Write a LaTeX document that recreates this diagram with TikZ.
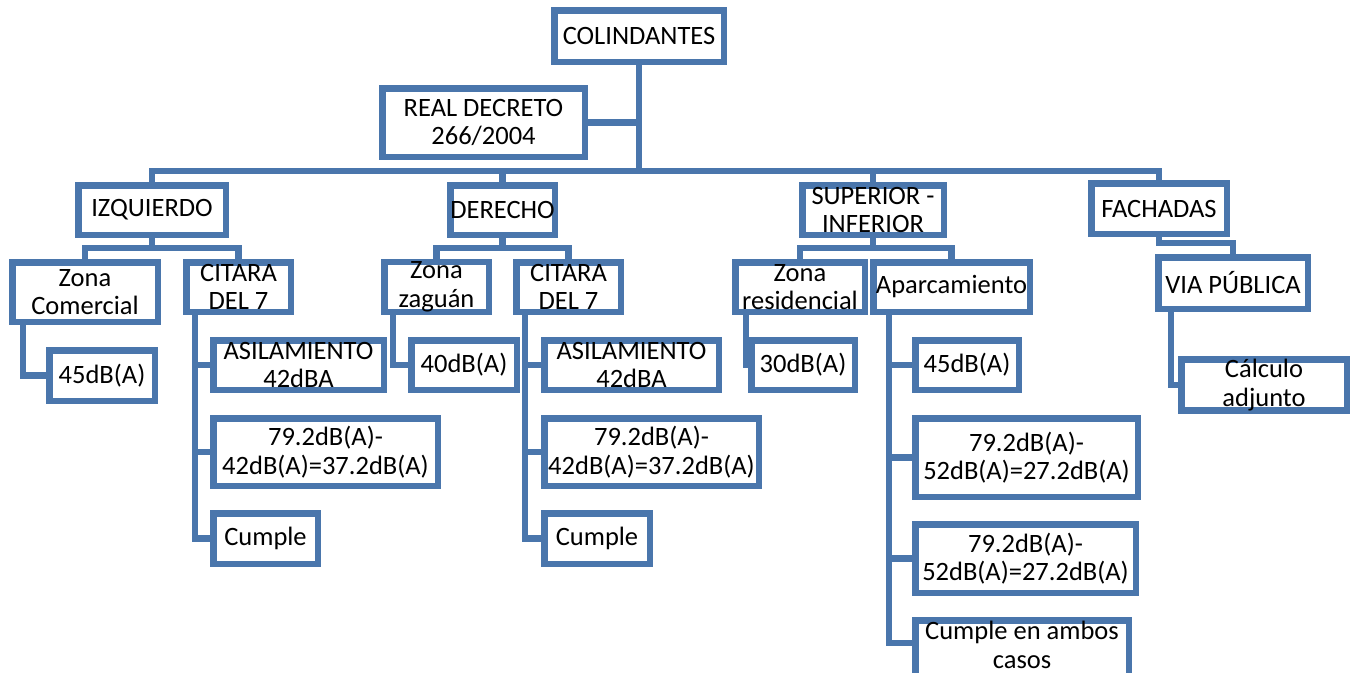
\documentclass[tikz,border=0pt]{standalone}
\usepackage{fontspec}
\setmainfont{Carlito}
\definecolor{azul}{HTML}{4A76AC}
\tikzset{
  caja/.style={draw=azul, line width=6.5pt, fill=white, align=center, inner sep=0pt,
    font=\fontsize{26.5}{28.5}\selectfont},
  linea/.style={draw=azul, line width=6.5pt}
}
\begin{document}
\begin{tikzpicture}[x=1pt,y=-1pt]
  \clip (0,0) rectangle (1359,672);
  \node[caja, minimum width=169.5pt, minimum height=51.5pt] (colindantes) at (639,36) {COLINDANTES};
  \node[caja, minimum width=202.5pt, minimum height=68.5pt] (decreto) at (483.5,122.5) {REAL DECRETO\\266/2004};
  \node[caja, minimum width=147.5pt, minimum height=49.5pt] (izquierdo) at (152,210) {IZQUIERDO};
  \node[caja, minimum width=104.5pt, minimum height=49.5pt] (derecho) at (502.5,210) {DERECHO};
  \node[caja, minimum width=141.5pt, minimum height=49.5pt] (superior) at (873,210) {SUPERIOR -\\INFERIOR};
  \node[caja, minimum width=135.5pt, minimum height=50.5pt] (fachadas) at (1159,208.5) {FACHADAS};
  \node[caja, minimum width=145.5pt, minimum height=59.5pt] (comercial) at (85,292) {Zona\\Comercial};
  \node[caja, minimum width=104.5pt, minimum height=49.5pt] (citaraI) at (238.5,287) {CITARA\\DEL 7};
  \node[caja, minimum width=104.5pt, minimum height=49.5pt] (zaguan) at (436.5,287) {Zona\\zaguán};
  \node[caja, minimum width=104.5pt, minimum height=49.5pt] (citaraD) at (568.5,287) {CITARA\\DEL 7};
  \node[caja, minimum width=129.5pt, minimum height=49.5pt] (residencial) at (800,287) {Zona\\residencial};
  \node[caja, minimum width=156.5pt, minimum height=49.5pt] (aparcamiento) at (951.5,287) {Aparcamiento};
  \node[caja, minimum width=149.5pt, minimum height=51.5pt] (via) at (1233,283) {VIA PÚBLICA};
  \node[caja, minimum width=105.5pt, minimum height=50.5pt] (c45) at (102,375.5) {45dB(A)};
  \node[caja, minimum width=170.5pt, minimum height=49.5pt] (aislI) at (298.5,365) {ASILAMIENTO\\42dBA};
  \node[caja, minimum width=224.5pt, minimum height=67.5pt] (restaI) at (325.5,452) {79.2dB(A)-\\42dB(A)=37.2dB(A)};
  \node[caja, minimum width=104.5pt, minimum height=50.5pt] (cumpleI) at (265.5,538.5) {Cumple};
  \node[caja, minimum width=105.5pt, minimum height=49.5pt] (z40) at (464,365) {40dB(A)};
  \node[caja, minimum width=174.5pt, minimum height=49.5pt] (aislD) at (631.5,365) {ASILAMIENTO\\42dBA};
  \node[caja, minimum width=214.5pt, minimum height=67.5pt] (restaD) at (651.5,452) {79.2dB(A)-\\42dB(A)=37.2dB(A)};
  \node[caja, minimum width=105.5pt, minimum height=50.5pt] (cumpleD) at (597,538.5) {Cumple};
  \node[caja, minimum width=103.5pt, minimum height=49.5pt] (r30) at (803,365) {30dB(A)};
  \node[caja, minimum width=103.5pt, minimum height=49.5pt] (a45) at (967,365) {45dB(A)};
  \node[caja, minimum width=222.5pt, minimum height=78.5pt] (restaA) at (1026.5,457.5) {79.2dB(A)-\\52dB(A)=27.2dB(A)};
  \node[caja, minimum width=220.5pt, minimum height=68.5pt] (restaB) at (1025.5,558.5) {79.2dB(A)-\\52dB(A)=27.2dB(A)};
  \node[caja, minimum width=213.5pt, minimum height=58.5pt, text depth=9pt] (cumpleA) at (1022,649.5) {Cumple en ambos\\casos};
  \node[caja, minimum width=165.5pt, minimum height=49.5pt] (calculo) at (1264,385) {Cálculo\\adjunto};

  \coordinate (bus) at (639,171);
  \draw[linea] (colindantes.south) -- (bus);
  \draw[linea] (decreto.east) -- (decreto.east -| colindantes.south);
  \draw[linea] (bus) -| (izquierdo.north);
  \draw[linea] (bus) -| (derecho.north);
  \draw[linea] (bus) -| (superior.north);
  \draw[linea] (bus) -| (fachadas.north);

  \draw[linea] (izquierdo.south) -- ++(0,10) -| (comercial.north);
  \draw[linea] (izquierdo.south) -- ++(0,10) -| (citaraI.north);
  \draw[linea] (derecho.south) -- ++(0,10) -| (zaguan.north);
  \draw[linea] (derecho.south) -- ++(0,10) -| (citaraD.north);
  \draw[linea] (superior.south) -- ++(0,10) -| (residencial.north);
  \draw[linea] (superior.south) -- ++(0,10) -| (aparcamiento.north);
  \draw[linea] (fachadas.south) -- ++(0,6) -| (via.north);

  \draw[linea] ([xshift=14pt]comercial.south west) |- (c45.west);
  \draw[linea] ([xshift=12pt]citaraI.south west) |- (aislI.west);
  \draw[linea] ([xshift=12pt]citaraI.south west) |- (restaI.west);
  \draw[linea] ([xshift=12pt]citaraI.south west) |- (cumpleI.west);
  \draw[linea] ([xshift=12pt]zaguan.south west) |- (z40.west);
  \draw[linea] ([xshift=12pt]citaraD.south west) |- (aislD.west);
  \draw[linea] ([xshift=12pt]citaraD.south west) |- (restaD.west);
  \draw[linea] ([xshift=12pt]citaraD.south west) |- (cumpleD.west);
  \draw[linea] ([xshift=14pt]residencial.south west) |- (r30.west);
  \draw[linea] ([xshift=19pt]aparcamiento.south west) |- (a45.west);
  \draw[linea] ([xshift=19pt]aparcamiento.south west) |- (restaA.west);
  \draw[linea] ([xshift=19pt]aparcamiento.south west) |- (restaB.west);
  \draw[linea] ([xshift=19pt]aparcamiento.south west) |- ([yshift=6.5pt]cumpleA.west);
  \draw[linea] ([xshift=16pt]via.south west) |- (calculo.west);
\end{tikzpicture}
\end{document}
